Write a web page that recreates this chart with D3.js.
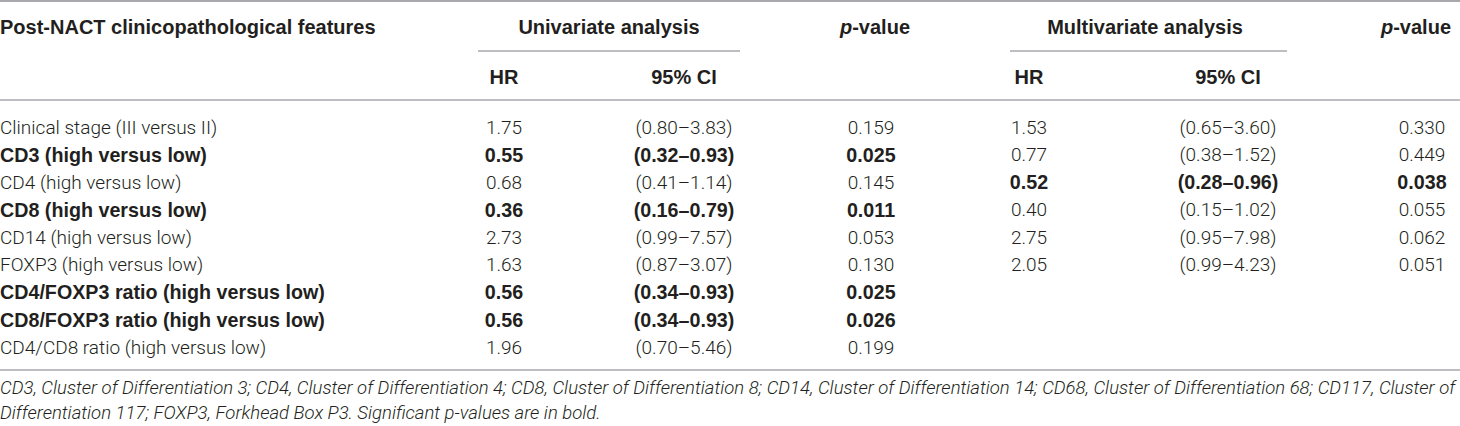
<!DOCTYPE html>
<html lang="en">
<head>
<meta charset="utf-8">
<title>Post-NACT Cox regression</title>
<script src="https://cdn.jsdelivr.net/npm/d3@7"></script>
<style>
  body { margin: 0; background: #fff; }
  svg text { fill: #231f20; }
  .hd { font-family: "Liberation Sans", Arial, sans-serif; font-weight: bold; font-size: 20px; }
  .cell { font-family: Roboto, "Liberation Sans", sans-serif; font-weight: 300; font-size: 19px; }
  .cell.b { font-family: "Liberation Sans", Arial, sans-serif; font-weight: bold; font-size: 19.7px; }
  .note { font-family: Roboto, "Liberation Sans", sans-serif; font-weight: 300; font-style: italic; font-size: 18.5px; }
</style>
</head>
<body>
<div id="tbl"></div>
<script>
var width = 1460;
var height = 426;

// rows
var features = ["Clinical stage (III versus II)", "CD3 (high versus low)", "CD4 (high versus low)",
  "CD8 (high versus low)", "CD14 (high versus low)", "FOXP3 (high versus low)",
  "CD4/FOXP3 ratio (high versus low)", "CD8/FOXP3 ratio (high versus low)", "CD4/CD8 ratio (high versus low)"];
// univariate
var uniHR = ["1.75", "0.55", "0.68", "0.36", "2.73", "1.63", "0.56", "0.56", "1.96"];
var uniCI = ["(0.80–3.83)", "(0.32–0.93)", "(0.41–1.14)", "(0.16–0.79)", "(0.99–7.57)", "(0.87–3.07)", "(0.34–0.93)", "(0.34–0.93)", "(0.70–5.46)"];
var uniP = ["0.159", "0.025", "0.145", "0.011", "0.053", "0.130", "0.025", "0.026", "0.199"];
var uniBold = [false, true, false, true, false, false, true, true, false];
// multivariate
var multiHR = ["1.53", "0.77", "0.52", "0.40", "2.75", "2.05", "", "", ""];
var multiCI = ["(0.65–3.60)", "(0.38–1.52)", "(0.28–0.96)", "(0.15–1.02)", "(0.95–7.98)", "(0.99–4.23)", "", "", ""];
var multiP = ["0.330", "0.449", "0.038", "0.055", "0.062", "0.051", "", "", ""];
var multiBold = [false, false, true, false, false, false, false, false, false];

var columns = ["feature", "uniHR", "uniCI", "uniP", "multiHR", "multiCI", "multiP"];
var footnote = [
  "CD3, Cluster of Differentiation 3; CD4, Cluster of Differentiation 4; CD8, Cluster of Differentiation 8; CD14, Cluster of Differentiation 14; CD68, Cluster of Differentiation 68; CD117, Cluster of",
  "Differentiation 117; FOXP3, Forkhead Box P3. Significant p-values are in bold."
];

const svg = d3.select("#tbl").append("svg")
    .attr("width", width)
    .attr("height", height);

// column centres
var x = d3.scaleOrdinal()
    .domain(columns)
    .range([0, 504, 684, 871, 1029, 1228, 1422]);

var y = d3.scaleBand()
    .domain(features)
    .range([113.25, 360.75]);

function rule(x1, x2, yy, w) {
    svg.append("line")
        .attr("x1", x1).attr("x2", x2)
        .attr("y1", yy).attr("y2", yy)
        .attr("stroke", "#a7a9ac")
        .attr("stroke-width", w);
}

rule(0, width, 1, 2);
rule(478, 740, 51, 1.3);
rule(1010, 1287, 51, 1.3);
rule(0, width, 100, 1.5);
rule(0, width, 370, 1.5);

// header
var h1 = svg.append("g").attr("class", "hd");
h1.append("text").attr("x", 0).attr("y", 34).text("Post-NACT clinicopathological features");
h1.append("text").attr("x", 609).attr("y", 34).attr("text-anchor", "middle").text("Univariate analysis");
h1.append("text").attr("x", 1145).attr("y", 34).attr("text-anchor", "middle").text("Multivariate analysis");
[[x("uniP") + 4], [x("multiP") - 6]].forEach(function(cx) {
    var t = h1.append("text").attr("x", cx[0]).attr("y", 34).attr("text-anchor", "middle");
    t.append("tspan").attr("font-style", "italic").text("p");
    t.append("tspan").text("-value");
});
[["uniHR", "HR"], ["uniCI", "95% CI"], ["multiHR", "HR"], ["multiCI", "95% CI"]].forEach(function(d) {
    h1.append("text").attr("x", x(d[0])).attr("y", 84).attr("text-anchor", "middle").text(d[1]);
});

// body
var rows = features.map(function(f, i) {
    return {
        feature: f,
        cells: [
            {col: "uniHR", v: uniHR[i], b: uniBold[i]},
            {col: "uniCI", v: uniCI[i], b: uniBold[i]},
            {col: "uniP", v: uniP[i], b: uniBold[i]},
            {col: "multiHR", v: multiHR[i], b: multiBold[i]},
            {col: "multiCI", v: multiCI[i], b: multiBold[i]},
            {col: "multiP", v: multiP[i], b: multiBold[i]}
        ],
        bold: uniBold[i]
    };
});

var g = svg.selectAll("g.row")
    .data(rows)
    .enter().append("g")
    .attr("class", "row")
    .attr("transform", function(d) { return "translate(0," + (y(d.feature) + y.bandwidth() / 2) + ")"; });

g.append("text")
    .attr("class", function(d) { return d.bold ? "cell b" : "cell"; })
    .attr("x", x("feature"))
    .attr("dy", "0.36em")
    .text(function(d) { return d.feature; });

g.selectAll("text.v")
    .data(function(d) { return d.cells.filter(function(c) { return c.v !== ""; }); })
    .enter().append("text")
    .attr("class", function(c) { return c.b ? "cell b v" : "cell v"; })
    .attr("x", function(c) { return x(c.col); })
    .attr("dy", "0.36em")
    .attr("text-anchor", "middle")
    .text(function(c) { return c.v; });

// footnote, sized so the first line fills the width
var notes = svg.selectAll("text.note")
    .data(footnote)
    .enter().append("text")
    .attr("class", "note")
    .attr("x", 0)
    .attr("y", function(d, i) { return 394 + i * 25; })
    .text(function(d) { return d; });

var w0 = notes.node().getComputedTextLength();
if (w0 > 0) {
    notes.style("font-size", (18.5 * 1457 / w0) + "px");
}
</script>
</body>
</html>
